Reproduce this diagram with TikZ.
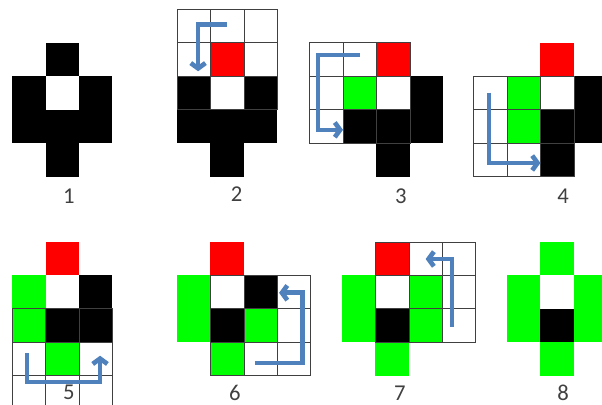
\documentclass[tikz,border=0pt]{standalone}
\usepackage{fontspec}
\setmainfont{Carlito}
\usetikzlibrary{arrows.meta}
\definecolor{scanblue}{RGB}{79,129,189}
\definecolor{pixred}{RGB}{255,0,0}
\definecolor{pixgreen}{RGB}{0,255,0}
% one square pixel of the figure
\newcommand{\pix}[3]{\fill[#1] (#2,#3) rectangle ++(1,1);}
% 3x3 scan window, top left cell given
\newcommand{\scanwin}[2]{\foreach \gi in {0,1,2} {\foreach \gj in {0,1,2}
  {\draw[cellgrid] (#1+\gi,#2+\gj) rectangle ++(1,1);}}}
\begin{document}
\begin{tikzpicture}[x=25.1pt,y=-25.1pt,
  cellgrid/.style={black!75,line width=0.6pt},
  scanarrow/.style={scanblue,line width=3.5pt,-{Straight Barb[length=4pt,width=11pt]}},
  numlabel/.style={font=\fontsize{17}{19}\selectfont,text=black!75}]
\useasboundingbox (0,0) rectangle (17.99,12.10);
\clip (0,0) rectangle (17.99,12.10);
% 1
\begin{scope}[shift={(0.36,1.28)}]
\foreach \c/\r in {1/0,0/1,2/1,0/2,1/2,2/2,1/3} {\pix{black}{\c}{\r}}
\end{scope}
% 2
\begin{scope}[shift={(5.29,1.28)}]
\foreach \c/\r in {0/1,2/1,0/2,1/2,2/2,1/3} {\pix{black}{\c}{\r}}
\pix{pixred}{1}{0}
\scanwin{0}{-1}
\draw[scanarrow] (1.49,-0.54) -- (0.63,-0.54) -- (0.63,0.85);
\end{scope}
% 3
\begin{scope}[shift={(10.25,1.28)}]
\foreach \c/\r in {2/1,0/2,1/2,2/2,1/3} {\pix{black}{\c}{\r}}
\pix{pixred}{1}{0}
\pix{pixgreen}{0}{1}
\scanwin{-1}{0}
\draw[scanarrow] (0.51,0.36) -- (-0.75,0.36) -- (-0.75,2.6) -- (0,2.6);
\end{scope}
% 4
\begin{scope}[shift={(15.15,1.28)}]
\foreach \c/\r in {2/1,1/2,2/2,1/3} {\pix{black}{\c}{\r}}
\pix{pixred}{1}{0}
\foreach \r in {1,2} {\pix{pixgreen}{0}{\r}}
\scanwin{-1}{1}
\draw[scanarrow] (-0.54,1.49) -- (-0.54,3.59) -- (1,3.59);
\end{scope}
% 5
\begin{scope}[shift={(0.36,7.23)}]
\foreach \c/\r in {2/1,1/2,2/2} {\pix{black}{\c}{\r}}
\pix{pixred}{1}{0}
\foreach \c/\r in {0/1,0/2,1/3} {\pix{pixgreen}{\c}{\r}}
\scanwin{0}{2}
\draw[scanarrow] (0.45,3.32) -- (0.45,4.19) -- (2.63,4.19) -- (2.63,3.4);
\end{scope}
% 6
\begin{scope}[shift={(5.29,7.23)}]
\foreach \c/\r in {2/1,1/2} {\pix{black}{\c}{\r}}
\pix{pixred}{1}{0}
\foreach \c/\r in {0/1,0/2,2/2,1/3} {\pix{pixgreen}{\c}{\r}}
\scanwin{1}{1}
\draw[scanarrow] (2.33,3.62) -- (3.74,3.62) -- (3.74,1.52) -- (3.05,1.52);
\end{scope}
% 7
\begin{scope}[shift={(10.22,7.23)}]
\pix{black}{1}{2}
\pix{pixred}{1}{0}
\foreach \c/\r in {0/1,2/1,0/2,2/2,1/3} {\pix{pixgreen}{\c}{\r}}
\scanwin{1}{0}
\draw[scanarrow] (3.29,2.54) -- (3.29,0.51) -- (2.5,0.51);
\end{scope}
% 8
\begin{scope}[shift={(15.15,7.23)}]
\pix{black}{1}{2}
\foreach \c/\r in {1/0,0/1,2/1,0/2,2/2,1/3} {\pix{pixgreen}{\c}{\r}}
\end{scope}
% step numbers
\node[numlabel] (n1) at (2.06,5.85) {1};
\node[numlabel] (n2) at (7.07,5.8) {2};
\node[numlabel] (n3) at (11.98,5.85) {3};
\node[numlabel] (n4) at (16.83,5.85) {4};
\node[numlabel] (n5) at (2.06,11.73) {5};
\node[numlabel] (n6) at (7.02,11.75) {6};
\node[numlabel] (n7) at (11.95,11.75) {7};
\node[numlabel] (n8) at (16.83,11.75) {8};
\end{tikzpicture}
\end{document}
